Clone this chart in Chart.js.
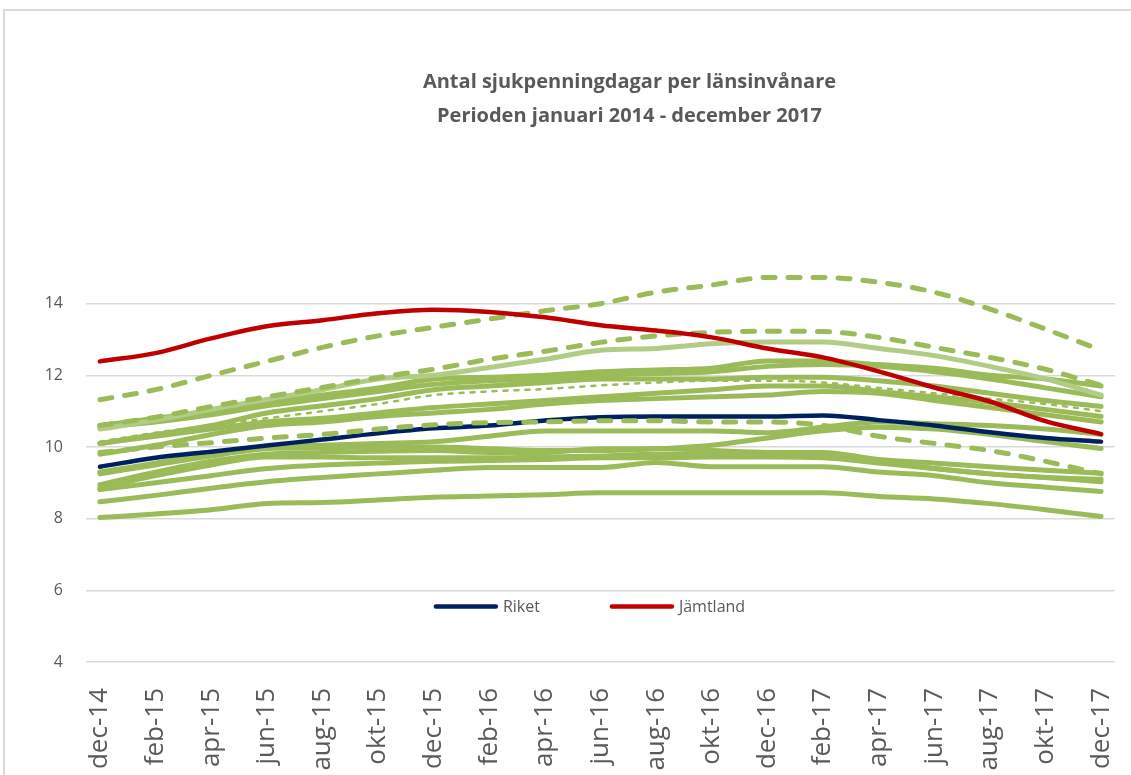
<!DOCTYPE html>
<html>
<head>
<meta charset="utf-8">
<script src="https://cdn.jsdelivr.net/npm/chart.js@4.4.1/dist/chart.umd.min.js"></script>
<style>
  html, body { margin: 0; padding: 0; background: #fff; overflow: hidden; }
  #frame { position: absolute; left: 3px; top: 9px; right: -10px; bottom: -10px;
           border-top: 2px solid #d9d9d9; border-left: 2px solid #d9d9d9; }
  #wrap { position: absolute; left: 0; top: 0; width: 1131px; height: 800px; }
</style>
</head>
<body>
<div id="frame"></div>
<div id="wrap"><canvas id="chart"></canvas></div>
<script>
// Tick labels (every second month, dec-14 .. dec-17)
const tickLabels = ["dec-14","feb-15","apr-15","jun-15","aug-15","okt-15","dec-15","feb-16","apr-16",
  "jun-16","aug-16","okt-16","dec-16","feb-17","apr-17","jun-17","aug-17","okt-17","dec-17"];

// Highlighted series
const jamtland = [12.39,12.62,13.03,13.37,13.54,13.73,13.83,13.77,13.62,13.4,13.25,13.06,12.75,12.5,12.11,11.66,11.27,10.72,10.36];
const riket    = [9.45,9.7,9.87,10.04,10.21,10.38,10.52,10.6,10.74,10.83,10.85,10.85,10.85,10.88,10.75,10.6,10.41,10.25,10.15];

// Other counties (green)
const lanDashed1 = [11.32,11.6,12.0,12.39,12.78,13.1,13.34,13.57,13.8,14.0,14.32,14.52,14.73,14.73,14.6,14.32,13.85,13.29,12.7];
const lanDashed2 = [10.6,10.83,11.13,11.4,11.66,11.94,12.17,12.45,12.67,12.92,13.1,13.2,13.23,13.22,13.06,12.78,12.5,12.17,11.72];
const lanDashed3 = [9.85,10.0,10.12,10.25,10.35,10.5,10.62,10.68,10.7,10.73,10.73,10.7,10.7,10.6,10.3,10.1,9.9,9.6,9.25];
const lanDotted  = [10.15,10.4,10.6,10.8,11.0,11.2,11.45,11.55,11.62,11.72,11.8,11.85,11.85,11.8,11.65,11.5,11.35,11.2,11.0];
const lanLight   = [10.5,10.75,11.05,11.33,11.6,11.9,12.0,12.22,12.45,12.7,12.75,12.88,12.93,12.93,12.75,12.55,12.25,11.9,11.45];
const lan1  = [10.6,10.8,11.0,11.25,11.45,11.65,11.9,11.95,12.0,12.1,12.15,12.2,12.4,12.4,12.3,12.2,12.0,11.9,11.7];
const lan2  = [10.55,10.7,10.9,11.15,11.35,11.55,11.75,11.85,11.9,12.0,12.05,12.1,12.25,12.3,12.25,12.1,11.9,11.65,11.4];
const lan3  = [10.1,10.35,10.6,10.95,11.15,11.35,11.6,11.7,11.8,11.9,11.9,11.9,11.95,11.95,11.85,11.7,11.5,11.3,11.13];
const lan4  = [10.1,10.3,10.5,10.7,10.8,10.95,11.1,11.2,11.3,11.4,11.5,11.6,11.7,11.7,11.55,11.4,11.25,11.05,10.85];
const lan5  = [9.8,10.05,10.35,10.6,10.7,10.85,10.95,11.05,11.2,11.3,11.35,11.4,11.45,11.55,11.5,11.3,11.1,10.9,10.7];
const lan6  = [9.3,9.55,9.8,10.0,10.05,10.1,10.15,10.3,10.45,10.45,10.45,10.45,10.4,10.55,10.7,10.65,10.6,10.5,10.35];
const lan7  = [9.25,9.5,9.75,9.95,9.98,10.0,10.0,9.95,9.9,9.9,9.95,10.05,10.25,10.45,10.55,10.5,10.35,10.15,9.96];
const lan8  = [8.95,9.3,9.6,9.8,9.85,9.88,9.9,9.85,9.85,9.95,9.95,9.9,9.85,9.85,9.65,9.55,9.45,9.35,9.27];
const lan9  = [8.85,9.2,9.5,9.72,9.72,9.7,9.7,9.7,9.72,9.75,9.8,9.8,9.8,9.78,9.6,9.4,9.25,9.15,9.03];
const lan10 = [8.81,9.0,9.2,9.4,9.5,9.55,9.6,9.62,9.65,9.7,9.7,9.72,9.72,9.7,9.55,9.4,9.25,9.15,9.1];
const lan11 = [8.47,8.65,8.85,9.03,9.15,9.25,9.35,9.43,9.43,9.43,9.57,9.45,9.45,9.45,9.3,9.2,9.0,8.88,8.76];
const lan12 = [8.03,8.13,8.25,8.42,8.45,8.52,8.6,8.63,8.67,8.72,8.72,8.72,8.72,8.72,8.62,8.55,8.42,8.25,8.06];

const GREEN = "#9bbb59";
const GREEN_LIGHT = "#b1cc84";
const RED = "#c00000";
const NAVY = "#002060";
const TEXT = "#595959";

// values sit on every second month (month index 0 = dec-14)
const toPoints = (arr) => arr.map((v, i) => ({ x: i * 2, y: v }));

const line = (label, arr, color, width, dash) => ({
  label: label,
  data: toPoints(arr),
  borderColor: color,
  backgroundColor: color,
  borderWidth: width,
  borderDash: dash || [],
  borderCapStyle: "round",
  borderJoinStyle: "round",
  pointRadius: 0,
  cubicInterpolationMode: "monotone",
  fill: false
});

// Legend drawn inside plot area (only Riket + Jämtland)
const innerLegend = {
  id: "innerLegend",
  afterDatasetsDraw(chart) {
    const { ctx, chartArea, scales } = chart;
    const y = scales.y.getPixelForValue(5.55);
    const items = [{ t: "Riket", c: NAVY }, { t: "Jämtland", c: RED }];
    ctx.save();
    ctx.font = '16px "Open Sans"';
    const lineLen = 64, gapText = 5, gapItem = 70;
    let total = 0;
    items.forEach((it, i) => {
      it.w = ctx.measureText(it.t).width;
      total += lineLen + gapText + it.w + (i < items.length - 1 ? gapItem : 0);
    });
    let x = (chartArea.left + chartArea.right) / 2 - 11 - total / 2;
    items.forEach((it) => {
      ctx.strokeStyle = it.c;
      ctx.lineWidth = 4.5;
      ctx.lineCap = "round";
      ctx.beginPath();
      ctx.moveTo(x + 2, y);
      ctx.lineTo(x + lineLen - 2, y);
      ctx.stroke();
      ctx.fillStyle = TEXT;
      ctx.textBaseline = "middle";
      ctx.textAlign = "left";
      ctx.fillText(it.t, x + lineLen + gapText, y + 1);
      x += lineLen + gapText + it.w + gapItem;
    });
    ctx.restore();
  }
};

// Two-line title
const titleLines = ["Antal sjukpenningdagar per länsinvånare", "Perioden januari 2014 - december 2017"];
const topTitle = {
  id: "topTitle",
  afterDraw(chart) {
    const { ctx, chartArea } = chart;
    ctx.save();
    ctx.font = 'bold 20px "Open Sans"';
    ctx.fillStyle = TEXT;
    ctx.textAlign = "center";
    ctx.textBaseline = "middle";
    const cx = (chartArea.left + chartArea.right) / 2 + 29;
    titleLines.forEach((t, i) => ctx.fillText(t, cx, 82 + i * 34));
    ctx.restore();
  }
};

const ctx = document.getElementById("chart").getContext("2d");
new Chart(ctx, {
  type: "line",
  data: {
    datasets: [
      line("Jämtland", jamtland, RED, 4.5),
      line("Län 1", lanDashed1, GREEN, 5, [12, 13]),
      line("Län 2", lanDashed2, GREEN, 5, [12, 13]),
      line("Län 3", lanDashed3, GREEN, 5, [12, 13]),
      line("Län 4", lanDotted, GREEN, 2.5, [4, 7]),
      line("Riket", riket, NAVY, 4.5),
      line("Län 5", lanLight, GREEN_LIGHT, 5),
      line("Län 6", lan1, GREEN, 5),
      line("Län 7", lan2, GREEN, 5),
      line("Län 8", lan3, GREEN, 5),
      line("Län 9", lan4, GREEN, 5),
      line("Län 10", lan5, GREEN, 5),
      line("Län 11", lan6, GREEN, 5),
      line("Län 12", lan7, GREEN, 5),
      line("Län 13", lan8, GREEN, 5),
      line("Län 14", lan9, GREEN, 5),
      line("Län 15", lan10, GREEN, 5),
      line("Län 16", lan11, GREEN, 5),
      line("Län 17", lan12, GREEN, 5)
    ]
  },
  options: {
    responsive: true,
    maintainAspectRatio: false,
    animation: false,
    layout: { padding: { top: 232, left: 0, right: 16, bottom: 0 } },
    plugins: {
      legend: { display: false },
      title: { display: false },
      tooltip: { enabled: false }
    },
    scales: {
      x: {
        type: "linear",
        min: -0.5,
        max: 36.5,
        afterFit: (scale) => {
          scale.height = 138;
          // rotated last label may overhang, like the original
          scale.paddingLeft = 0;
          scale.paddingRight = 0;
        },
        afterBuildTicks: (scale) => { scale.ticks = tickLabels.map((_, i) => ({ value: i * 2 })); },
        grid: { display: false, drawTicks: false },
        border: { display: false },
        ticks: {
          autoSkip: false,
          maxRotation: 90,
          minRotation: 90,
          padding: 26,
          color: TEXT,
          font: { family: "Open Sans", size: 26 },
          callback: (v) => tickLabels[Math.round(v / 2)]
        }
      },
      y: {
        min: 4,
        max: 16,
        afterFit: (scale) => { scale.width = 86; },
        grid: {
          drawTicks: false,
          lineWidth: 1.5,
          color: (c) => (c.tick && c.tick.value === 16 ? "rgba(0,0,0,0)" : "#d9d9d9")
        },
        border: { display: false },
        ticks: {
          stepSize: 2,
          padding: 23,
          color: TEXT,
          font: { family: "Open Sans", size: 16 },
          callback: (v) => (v === 16 ? "" : v)
        }
      }
    }
  },
  plugins: [innerLegend, topTitle]
});
</script>
</body>
</html>
